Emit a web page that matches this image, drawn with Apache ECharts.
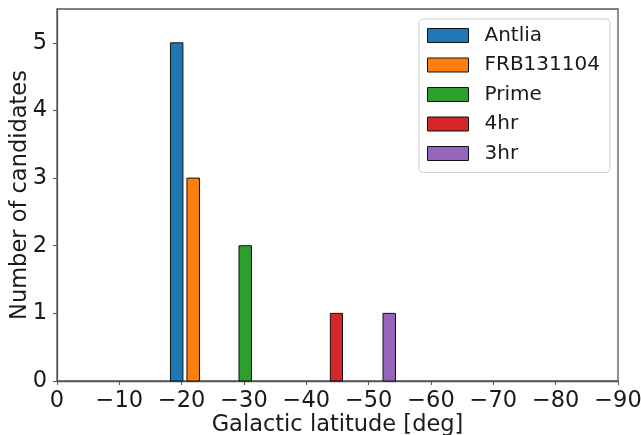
<!DOCTYPE html>
<html>
<head>
<meta charset="utf-8">
<script src="https://cdn.jsdelivr.net/npm/echarts@6/dist/echarts.min.js"></script>
<style>html,body{margin:0;padding:0;background:#fff;}#c{width:641px;height:435px;}</style>
</head>
<body>
<div id="c"></div>
<script>
// Series names and colours
const seriesNames = ['Antlia', 'FRB131104', 'Prime', '4hr', '3hr'];
const seriesColors = ['#1f77b4', '#ff7f0e', '#2ca02c', '#d62728', '#9467bd'];
// Each bar: [left edge (deg), right edge (deg), count]
const antlia = [[-18.2, -20.2, 5]];
const frb131104 = [[-20.85, -22.85, 3]];
const prime = [[-29.2, -31.2, 2]];
const hr4 = [[-43.85, -45.8, 1]];
const hr3 = [[-52.3, -54.3, 1]];
const seriesData = [antlia, frb131104, prime, hr4, hr3];
const yTicks = [0, 1, 2, 3, 4, 5];

const FONT = 'DejaVu Sans';
const TXT = '#1a1a1a';
const AX = '#555';
const FS = 22.5;
const LFS = 20;

function renderBar(params, api) {
  const a = api.coord([api.value(0), api.value(2)]);
  const b = api.coord([api.value(1), 0]);
  return {
    type: 'rect',
    shape: { x: Math.min(a[0], b[0]), y: a[1], width: Math.abs(b[0] - a[0]), height: b[1] - a[1] },
    style: { fill: api.visual('color'), stroke: '#111', lineWidth: 1 }
  };
}

const chart = echarts.init(document.getElementById('c'), null, { renderer: 'canvas' });
chart.setOption({
  animation: false,
  backgroundColor: '#fff',
  textStyle: { fontFamily: FONT },
  grid: { left: 57, top: 9, right: 23, bottom: 54, show: true, borderColor: AX, borderWidth: 1.3, containLabel: false, outerBoundsMode: 'none' },
  legend: {
    orient: 'vertical',
    left: 419,
    top: 19,
    padding: [6.5, 10, 9, 8],
    backgroundColor: '#fff',
    borderColor: '#d0d0d0',
    borderWidth: 1,
    borderRadius: 4,
    itemWidth: 41,
    itemHeight: 14,
    itemGap: 9.5,
    icon: 'rect',
    itemStyle: { borderColor: '#111', borderWidth: 1 },
    textStyle: { fontFamily: FONT, fontSize: LFS, color: TXT, padding: [0, 0, 0, 11] },
    data: seriesNames
  },
  xAxis: {
    type: 'value',
    min: -90, max: 0, interval: 10, inverse: true,
    name: 'Galactic latitude [deg]',
    nameLocation: 'middle', nameGap: 33, nameMoveOverlap: false,
    nameTextStyle: { fontFamily: FONT, fontSize: FS, color: TXT },
    axisLine: { show: true, lineStyle: { color: AX, width: 1.3 } },
    axisTick: { show: true, inside: false, length: 4, lineStyle: { color: AX, width: 1 } },
    axisLabel: {
      margin: 9, fontFamily: FONT, fontSize: FS, color: TXT,
      formatter: v => String(v).replace('-', '\u2212')
    },
    splitLine: { show: false }
  },
  yAxis: {
    type: 'value',
    min: 0, max: 5.5, interval: 1,
    name: 'Number of candidates',
    nameLocation: 'middle', nameGap: 25, nameMoveOverlap: false,
    nameTextStyle: { fontFamily: FONT, fontSize: FS, color: TXT },
    axisLine: { show: true, lineStyle: { color: AX, width: 1.3 } },
    axisTick: { show: true, inside: false, length: 4, lineStyle: { color: AX, width: 1 }, customValues: yTicks },
    axisLabel: { margin: 10, fontFamily: FONT, fontSize: FS, color: TXT, customValues: yTicks },
    splitLine: { show: false }
  },
  series: seriesNames.map((n, i) => ({
    name: n,
    type: 'custom',
    renderItem: renderBar,
    itemStyle: { color: seriesColors[i] },
    encode: { x: [0, 1], y: 2 },
    data: seriesData[i]
  }))
});
</script>
</body>
</html>
